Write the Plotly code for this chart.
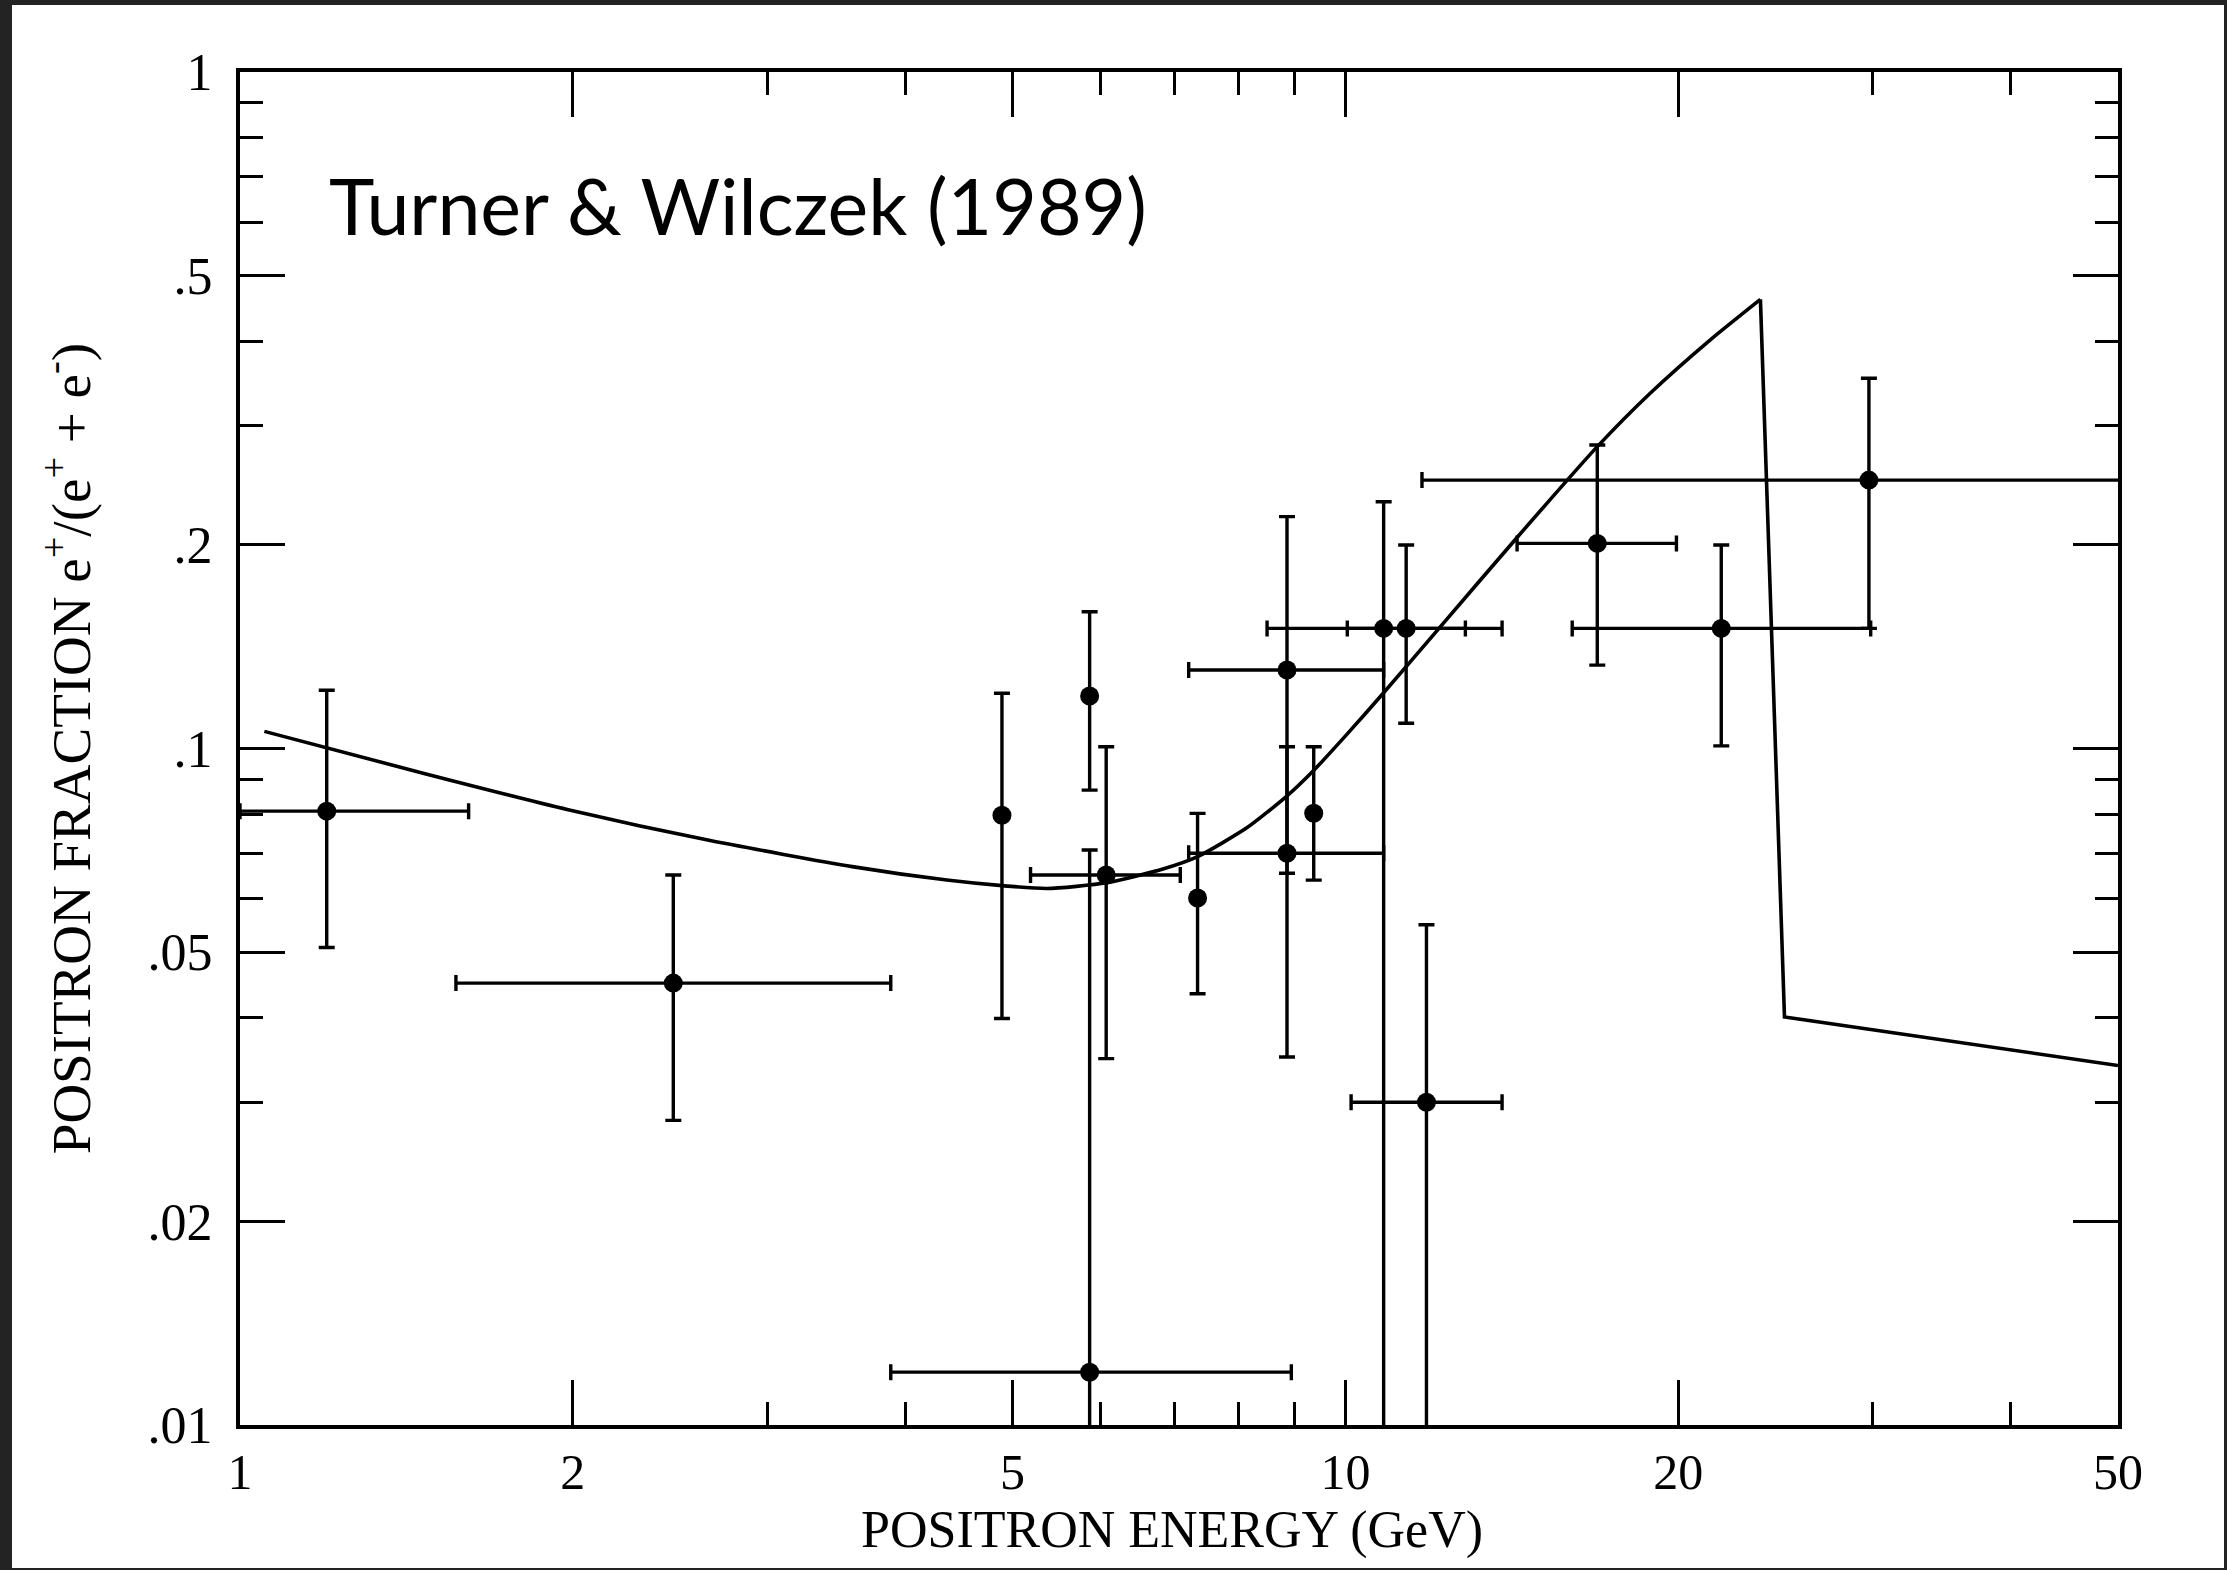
import plotly.graph_objects as go

# ---------------- data ----------------
energy   = [1.198, 2.466, 4.89, 5.87, 5.87, 6.076, 7.35, 8.855, 8.855, 9.362, 10.83, 11.35, 11.84, 16.9, 21.88, 29.76]
fraction = [0.0808, 0.045, 0.0797, 0.1196, 0.01197, 0.065, 0.0601, 0.1306, 0.070, 0.0802, 0.1505, 0.1505, 0.030, 0.201, 0.1505, 0.2493]
frac_hi  = [0.1219, 0.065, 0.1207, 0.1593, 0.0708, 0.1006, 0.0802, 0.2202, 0.1006, 0.1006, 0.2316, 0.1999, 0.0549, 0.281, 0.1999, 0.3526]
frac_lo  = [0.0508, 0.0282, 0.0399, 0.0868, 0.005, 0.0348, 0.0434, 0.035, 0.0654, 0.0639, 0.005, 0.109, 0.005, 0.1328, 0.1009, 0.1505]
en_lo    = [1.0, 1.568, 4.89, 5.87, 3.879, 5.19, 7.35, 7.215, 7.215, 9.362, 8.495, 10.04, 10.12, 14.3, 16.04, 11.73]
en_hi    = [1.61, 3.879, 4.89, 5.87, 8.935, 7.09, 7.35, 10.83, 10.83, 9.362, 13.86, 12.84, 13.86, 19.93, 29.87, 60.0]

# smooth part of the model, then the sharp cutoff
model_energy   = [1.052, 1.473, 1.981, 2.663, 3.58, 4.36, 4.89, 5.37, 6.08, 6.85, 7.35, 8.15, 8.84, 9.36,
                  10.04, 10.83, 12.11, 14.3, 16.9, 18.88, 21.4, 23.74]
model_fraction = [0.106, 0.0917, 0.0812, 0.0731, 0.0669, 0.0639, 0.0627, 0.0621, 0.0633, 0.0664, 0.0692, 0.0764, 0.0849, 0.0928,
                  0.1051, 0.1209, 0.1495, 0.2051, 0.2794, 0.3354, 0.4023, 0.4613]
cutoff_energy   = [23.74, 24.96, 50.0]
cutoff_fraction = [0.4613, 0.0401, 0.034]

x_tickvals = [1, 2, 5, 10, 20, 50]
x_ticktext = ["1", "2", "5", "10", "20", "50"]
x_minor    = [3, 4, 6, 7, 8, 9, 30, 40]
y_tickvals = [0.01, 0.02, 0.05, 0.1, 0.2, 0.5, 1]
y_ticktext = [".01", ".02", ".05", ".1", ".2", ".5", "1"]
y_minor    = [0.03, 0.04, 0.06, 0.07, 0.08, 0.09, 0.3, 0.4, 0.6, 0.7, 0.8, 0.9]

x_title = "POSITRON ENERGY (GeV)"
y_title = "POSITRON FRACTION e<sup>+</sup>/(e<sup>+</sup> + e<sup>-</sup>)"
label   = "Turner &amp; Wilczek (1989)"

# ---------------- figure ----------------
W, H = 2227, 1570
L, R, T, B = 240, 2118, 72, 1425

err_up   = [h - v for h, v in zip(frac_hi, fraction)]
err_down = [v - l for v, l in zip(fraction, frac_lo)]
ex_up    = [h - e for h, e in zip(en_hi, energy)]
ex_down  = [e - l for e, l in zip(energy, en_lo)]

fig = go.Figure()
fig.add_trace(go.Scatter(
    x=model_energy, y=model_fraction, mode="lines",
    line=dict(color="black", width=3.6, shape="spline", smoothing=0.6), showlegend=False))
fig.add_trace(go.Scatter(
    x=cutoff_energy, y=cutoff_fraction, mode="lines",
    line=dict(color="black", width=3.6), showlegend=False))
fig.add_trace(go.Scatter(
    x=energy, y=fraction, mode="markers",
    marker=dict(color="black", size=19),
    error_y=dict(type="data", symmetric=False, array=err_up, arrayminus=err_down,
                 color="black", thickness=3.4, width=8),
    error_x=dict(type="data", symmetric=False, array=ex_up, arrayminus=ex_down,
                 color="black", thickness=3.4, width=8),
    showlegend=False))

serif = "Liberation Serif"

fig.update_layout(
    width=W, height=H,
    margin=dict(l=L, r=W - R, t=T, b=H - B, pad=0),
    paper_bgcolor="#232323", plot_bgcolor="white",
    font=dict(family=serif, color="black", size=48),
    xaxis=dict(
        type="log", range=[0, 1.69897],
        tickmode="array", tickvals=x_tickvals, ticktext=x_ticktext,
        ticks="inside", ticklen=45, tickwidth=3.2, tickcolor="black",
        showline=True, linewidth=4, linecolor="black", mirror="allticks",
        showgrid=False, zeroline=False,
        tickfont=dict(family=serif, size=50), ticklabelstandoff=0,
        minor=dict(tickmode="array", tickvals=x_minor, ticks="inside",
                   ticklen=23, tickwidth=3.2, tickcolor="black", showgrid=False),
    ),
    yaxis=dict(
        type="log", range=[-2, 0],
        tickmode="array", tickvals=y_tickvals, ticktext=y_ticktext,
        ticks="inside", ticklen=45, tickwidth=3.2, tickcolor="black",
        showline=True, linewidth=4, linecolor="black", mirror="allticks",
        showgrid=False, zeroline=False,
        tickfont=dict(family=serif, size=52), ticklabelstandoff=13,
        minor=dict(tickmode="array", tickvals=y_minor, ticks="inside",
                   ticklen=23, tickwidth=3.2, tickcolor="black", showgrid=False),
        title=dict(text=y_title, font=dict(family=serif, size=55), standoff=40),
    ),
)

def px(x):
    return (x - L) / (R - L)

def py(y):
    return (B - y) / (B - T)

fig.add_shape(type="rect", xref="paper", yref="paper",
              x0=px(12), x1=px(2224), y0=py(1568), y1=py(5),
              fillcolor="white", line=dict(width=0), layer="below")

fig.add_annotation(text=x_title, xref="paper", yref="paper",
                   x=px(1172), y=py(1530), xanchor="center", yanchor="middle",
                   showarrow=False, font=dict(family=serif, size=52, color="black"))

fig.add_annotation(text=label, xref="paper", yref="paper",
                   x=px(327), y=py(205), xanchor="left", yanchor="middle",
                   showarrow=False, font=dict(family="Lato", size=77, color="black"))

fig.write_html("out.html")
